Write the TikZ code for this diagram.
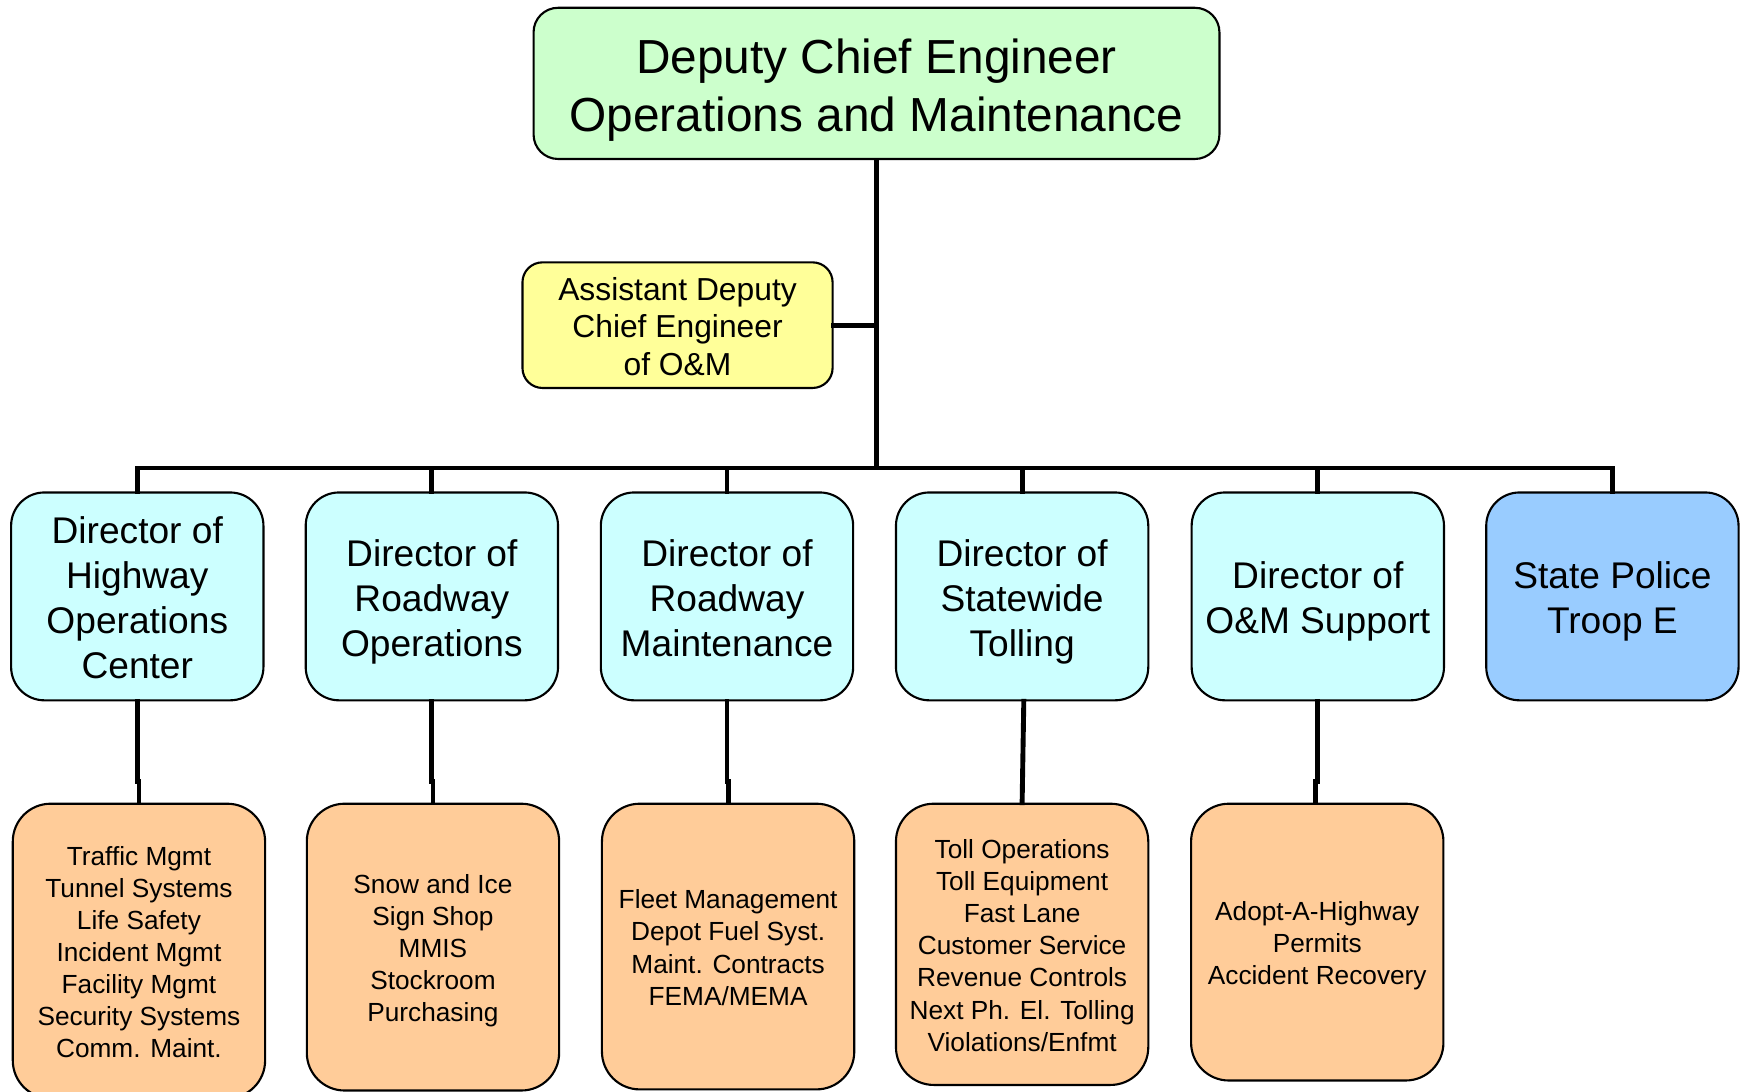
\documentclass[tikz,border=0pt]{standalone}
\usepackage{fontspec}
\setmainfont{Liberation Sans}
\usetikzlibrary{calc}
\definecolor{cgreen}{HTML}{CCFFCC}
\definecolor{cyellow}{HTML}{FFFF99}
\definecolor{ccyan}{HTML}{CCFFFF}
\definecolor{cblue}{HTML}{99CCFF}
\definecolor{corange}{HTML}{FFCC99}
\newcommand\myTS{\rule{0pt}{1.05em}}
\newcommand\myBS{\rule[-0.25em]{0pt}{0pt}}
\tikzset{
  box/.style={draw=black, line width=0.95pt, align=center, inner sep=0pt, text=black},
  topbox/.style={box, fill=cgreen, rounded corners=11pt, minimum width=308.5pt, minimum height=68pt,
     font=\fontsize{21.5}{26}\selectfont},
  asstbox/.style={box, fill=cyellow, rounded corners=9pt, minimum width=139.5pt, minimum height=56.5pt,
     font=\fontsize{14.3}{17}\selectfont},
  dirbox/.style={box, fill=ccyan, rounded corners=15pt, minimum width=113.5pt, minimum height=93.5pt,
     font=\fontsize{16.7}{20.2}\selectfont},
  polbox/.style={dirbox, fill=cblue},
  unitbox/.style={box, fill=corange, rounded corners=17pt, minimum width=113.5pt,
     font=\fontsize{11.8}{14.45}\selectfont},
  conn/.style={draw=black, line width=2.2pt, line join=miter, line cap=rect}
}
\begin{document}
\begin{tikzpicture}[x=0.5pt,y=-0.5pt]
\useasboundingbox (0,0) rectangle (1568,982);
\fill[white] (0,0) rectangle (1568,982);

% nodes
\node[topbox] (top) at (788.5,75) {\myTS Deputy Chief Engineer\\Operations and Maintenance\myBS};
\node[asstbox] (asst) at (609.5,292.5) {\myTS Assistant Deputy\\Chief Engineer\\of O\&M\myBS};

\node[dirbox] (d1) at (123.5,536.5) {\myTS Director of\\Highway\\Operations\\Center\myBS};
\node[dirbox] (d2) at (388.5,536.5) {\myTS Director of\\Roadway\\Operations\myBS};
\node[dirbox] (d3) at (654,536.5) {\myTS Director of\\Roadway\\Maintenance\myBS};
\node[dirbox] (d4) at (919.5,536.5) {\myTS Director of\\Statewide\\Tolling\myBS};
\node[dirbox] (d5) at (1185.5,536.5) {\myTS Director of\\O\&M Support\myBS};
\node[polbox] (sp) at (1450.5,536.5) {\myTS State Police\\Troop E\myBS};

\node[unitbox, minimum height=132.5pt] (o1) at (125,855.5) {\myTS Traffic Mgmt\\Tunnel Systems\\Life Safety\\Incident Mgmt\\Facility Mgmt\\Security Systems\\Comm. Maint.\myBS};
\node[unitbox, minimum height=129pt] (o2) at (389.5,852) {\myTS Snow and Ice\\Sign Shop\\MMIS\\Stockroom\\Purchasing\myBS};
\node[unitbox, minimum height=128.5pt] (o3) at (655,851.5) {\myTS Fleet Management\\Depot Fuel Syst.\\Maint. Contracts\\FEMA/MEMA\myBS};
\node[unitbox, minimum height=126.5pt] (o4) at (919.5,849.5) {\myTS Toll Operations\\Toll Equipment\\Fast Lane\\Customer Service\\Revenue Controls\\Next Ph. El. Tolling\\Violations/Enfmt\myBS};
\node[unitbox, minimum height=124.5pt] (o5) at (1185,847.5) {\myTS Adopt-A-Highway\\Permits\\Accident Recovery\myBS};

\coordinate (bus) at (788.5,421);

% connectors
\draw[conn] (top.south) -- (bus);
\draw[conn] (asst.east) -- (asst.east -| top.south);
\draw[conn] (d1.north) |- (bus) -| (sp.north);
\draw[conn] (d2.north) -- (d2.north |- bus);
\draw[conn] (d3.north) -- (d3.north |- bus);
\draw[conn] (d4.north) -- (d4.north |- bus);
\draw[conn] (d5.north) -- (d5.north |- bus);

\draw[conn] (d1.south) -- ++(0,72) -| (o1.north);
\draw[conn] (d2.south) -- ++(0,72) -| (o2.north);
\draw[conn] (d3.south) -- ++(0,72) -| (o3.north);
\draw[conn] ($(d4.south)+(1.5,0)$) -- (o4.north);
\draw[conn] (d5.south) -- ++(0,72) -| ($(o5.north)+(-1.5,0)$);
\end{tikzpicture}
\end{document}
